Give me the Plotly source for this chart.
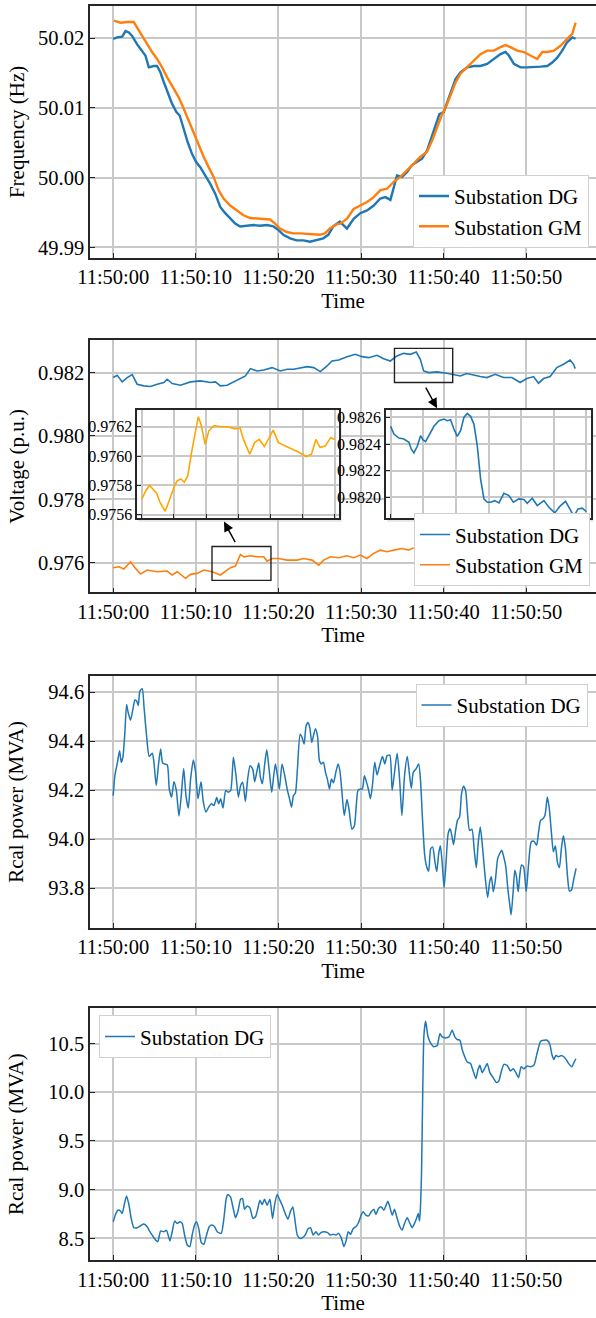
import plotly.graph_objects as go
import numpy as np

# ---------------- data ----------------
tick_seconds = [0, 10, 20, 30, 40, 50]
tick_labels = ["11:50:00", "11:50:10", "11:50:20", "11:50:30", "11:50:40", "11:50:50"]

# Panel 1: frequency (Hz)
freq_dg_t = [0.00, 0.48, 1.09, 1.49, 1.89, 2.29, 2.90, 3.50, 3.90, 4.31, 4.91, 5.31, 5.71, 6.12, 6.72, 7.12,
             7.65, 8.05, 8.53, 9.01, 9.54, 10.06, 10.54, 11.15, 11.75, 12.35, 12.96, 13.56, 14.16, 14.77, 15.37,
             16.18, 16.98, 17.79, 18.59, 19.40, 20.00, 20.60, 21.41, 22.21, 23.02, 23.82, 24.63, 25.43, 26.04,
             26.64, 27.44, 28.30, 29.11, 29.92, 30.73, 31.54, 32.34, 32.95, 33.56, 33.96, 34.36, 34.97, 35.58,
             36.18, 36.79, 37.39, 38.00, 38.48, 39.01, 39.49, 40.02, 40.42, 40.83, 41.43, 42.04, 42.85, 43.66,
             44.46, 45.27, 46.08, 46.89, 47.49, 47.90, 48.51, 49.31, 50.12, 50.93, 51.74, 52.55, 53.15, 53.76,
             54.36, 54.95, 55.58, 55.98]
freq_dg = [50.0199, 50.0201, 50.0202, 50.0210, 50.0208, 50.0203, 50.0191, 50.0182, 50.0175, 50.0158, 50.0160,
           50.0160, 50.0151, 50.0137, 50.0120, 50.0106, 50.0094, 50.0089, 50.0070, 50.0051, 50.0034, 50.0022,
           50.0015, 50.0003, 49.9991, 49.9977, 49.9958, 49.9949, 49.9941, 49.9934, 49.9930, 49.9931, 49.9932,
           49.9931, 49.9932, 49.9930, 49.9925, 49.9918, 49.9913, 49.9910, 49.9910, 49.9908, 49.9910, 49.9913,
           49.9918, 49.9930, 49.9937, 49.9927, 49.9941, 49.9949, 49.9953, 49.9960, 49.9970, 49.9972, 49.9968,
           49.9987, 50.0003, 50.0001, 50.0008, 50.0018, 50.0022, 50.0027, 50.0039, 50.0056, 50.0075, 50.0091,
           50.0094, 50.0108, 50.0122, 50.0141, 50.0151, 50.0158, 50.0160, 50.0160, 50.0163, 50.0170, 50.0177,
           50.0180, 50.0175, 50.0163, 50.0158, 50.0158, 50.0158, 50.0159, 50.0160, 50.0165, 50.0172, 50.0182,
           50.0194, 50.0201, 50.0199]
freq_gm_t = [0.08, 0.89, 1.69, 2.49, 2.90, 3.50, 4.10, 4.71, 5.31, 5.92, 6.52, 7.32, 7.93, 8.53, 9.13, 9.74,
             10.34, 10.95, 11.55, 12.15, 12.76, 13.36, 14.16, 14.97, 15.77, 16.58, 17.38, 18.19, 18.99, 19.60,
             20.20, 21.01, 21.81, 22.62, 23.42, 24.23, 25.03, 25.63, 26.24, 27.04, 27.49, 28.30, 29.11, 29.92,
             30.73, 31.54, 32.34, 33.15, 33.96, 34.77, 35.58, 36.38, 37.19, 38.00, 38.61, 39.21, 39.82, 40.34,
             40.83, 41.43, 42.04, 42.85, 43.66, 44.46, 45.27, 46.08, 46.89, 47.49, 48.10, 48.91, 49.72, 50.53,
             51.33, 51.94, 52.55, 53.35, 54.16, 54.95, 55.58, 55.98]
freq_gm = [50.0225, 50.0222, 50.0223, 50.0223, 50.0215, 50.0203, 50.0191, 50.0180, 50.0170, 50.0158, 50.0144,
           50.0127, 50.0115, 50.0099, 50.0082, 50.0063, 50.0046, 50.0030, 50.0015, 50.0001, 49.9982, 49.9970,
           49.9960, 49.9953, 49.9946, 49.9942, 49.9941, 49.9941, 49.9940, 49.9934, 49.9927, 49.9922, 49.9920,
           49.9920, 49.9919, 49.9918, 49.9918, 49.9920, 49.9927, 49.9933, 49.9934, 49.9941, 49.9955, 49.9960,
           49.9965, 49.9972, 49.9982, 49.9984, 49.9994, 50.0001, 50.0010, 50.0020, 50.0030, 50.0037, 50.0053,
           50.0072, 50.0091, 50.0103, 50.0118, 50.0136, 50.0149, 50.0158, 50.0168, 50.0177, 50.0182, 50.0182,
           50.0187, 50.0190, 50.0187, 50.0182, 50.0180, 50.0175, 50.0170, 50.0180, 50.0180, 50.0182, 50.0189,
           50.0199, 50.0206, 50.0222]

# Panel 2: voltage (p.u.)
volt_dg_t = [0.00, 0.48, 1.09, 1.69, 2.30, 2.90, 3.71, 4.52, 5.32, 6.13, 6.53, 7.14, 8.15, 9.35, 10.56, 11.77,
             12.38, 12.98, 13.79, 14.60, 15.40, 16.01, 16.61, 17.42, 18.23, 19.23, 20.24, 21.05, 21.85, 22.66,
             23.47, 24.27, 25.08, 25.89, 26.49, 27.30, 28.31, 29.31, 30.12, 30.93, 31.94, 32.74, 33.55, 34.35,
             35.16, 35.97, 36.69, 37.18, 37.58, 38.19, 39.19, 40.40, 41.21, 42.02, 42.82, 43.63, 44.44, 45.24,
             46.25, 47.26, 48.27, 49.27, 50.08, 50.89, 51.49, 52.10, 52.90, 53.71, 54.52, 55.32, 55.73, 55.93]
volt_dg = [0.981843, 0.981916, 0.981707, 0.981843, 0.981937, 0.981634, 0.981581, 0.981560, 0.981634, 0.981686,
           0.981790, 0.981654, 0.981602, 0.981707, 0.981738, 0.981686, 0.981707, 0.981581, 0.981602, 0.981707,
           0.981790, 0.981895, 0.982126, 0.982052, 0.982084, 0.982157, 0.982052, 0.982105, 0.982105, 0.982157,
           0.982188, 0.982157, 0.982031, 0.982209, 0.982366, 0.982398, 0.982503, 0.982576, 0.982503, 0.982471,
           0.982545, 0.982440, 0.982366, 0.982524, 0.982607, 0.982576, 0.982649, 0.982419, 0.982052, 0.982000,
           0.982021, 0.981979, 0.981948, 0.981895, 0.981969, 0.981916, 0.981874, 0.981843, 0.981948, 0.981843,
           0.981843, 0.981686, 0.981812, 0.981874, 0.981665, 0.981812, 0.981874, 0.982157, 0.982262, 0.982398,
           0.982262, 0.982126]
volt_gm_t = [0.00, 0.69, 1.29, 2.10, 2.70, 3.31, 4.11, 5.32, 6.53, 7.14, 7.74, 8.75, 9.35, 10.16, 10.97, 11.98,
             12.98, 13.59, 14.19, 14.80, 15.40, 15.81, 16.61, 17.42, 18.23, 18.63, 19.23, 20.04, 21.05, 22.26,
             23.06, 24.07, 24.88, 25.48, 26.29, 27.30, 28.31, 29.11, 29.92, 30.73, 31.53, 32.34, 33.15, 33.95,
             34.96, 35.77, 36.37]
volt_gm = [0.975843, 0.975874, 0.975800, 0.976031, 0.975822, 0.975644, 0.975770, 0.975717, 0.975738, 0.975613,
           0.975717, 0.975508, 0.975634, 0.975665, 0.975770, 0.975717, 0.975613, 0.975717, 0.975843, 0.975895,
           0.976262, 0.976188, 0.976220, 0.976188, 0.976188, 0.976052, 0.976136, 0.976136, 0.976084, 0.976084,
           0.976136, 0.976084, 0.975926, 0.976084, 0.976188, 0.976157, 0.976220, 0.976157, 0.976241, 0.976136,
           0.976293, 0.976398, 0.976346, 0.976398, 0.976450, 0.976398, 0.976471]

# Inset (GM detail)
inset_gm_t = [11.50, 11.78, 12.02, 12.25, 12.49, 12.72, 12.95, 13.07, 13.31, 13.54, 13.71, 13.89, 14.13, 14.36,
              14.60, 14.83, 15.07, 15.30, 15.49, 15.77, 16.01, 16.36, 16.83, 17.30, 17.77, 18.12, 18.35, 18.77,
              19.10, 19.41, 19.76, 20.35, 20.70, 21.17, 21.64, 22.11, 22.58, 22.93, 23.23, 23.51, 23.87, 24.22,
              24.50]
inset_gm = [0.975708, 0.975765, 0.975799, 0.975776, 0.975749, 0.975686, 0.975641, 0.975623, 0.975686, 0.975754,
            0.975799, 0.975832, 0.975844, 0.975821, 0.975866, 0.976013, 0.976137, 0.976268, 0.976216, 0.976080,
            0.976171, 0.976209, 0.976200, 0.976200, 0.976186, 0.976193, 0.976114, 0.976013, 0.976092, 0.976114,
            0.976065, 0.976177, 0.976092, 0.976070, 0.976051, 0.976024, 0.975997, 0.976013, 0.976114, 0.976058,
            0.976070, 0.976126, 0.976114]
inset_gm_ticks = [0.9756, 0.9758, 0.9760, 0.9762]

# Inset (DG detail)
inset_dg_t = [34.05, 34.17, 34.35, 34.53, 34.71, 34.79, 34.89, 35.01, 35.13, 35.21, 35.31, 35.43, 35.61, 35.79,
              35.97, 36.09, 36.21, 36.33, 36.45, 36.57, 36.69, 36.81, 36.93, 37.05, 37.17, 37.29, 37.41, 37.53,
              37.65, 37.80, 37.95, 38.13, 38.31, 38.47, 38.67, 38.85, 38.97, 39.15, 39.33, 39.57, 39.75, 39.96,
              40.17, 40.35, 40.51, 40.65, 40.80, 40.95, 41.10]
inset_dg = [0.982533, 0.982475, 0.982445, 0.982438, 0.982413, 0.982363, 0.982333, 0.982383, 0.982463, 0.982433,
            0.982418, 0.982463, 0.982533, 0.982575, 0.982588, 0.982575, 0.982583, 0.982513, 0.982458, 0.982500,
            0.982600, 0.982630, 0.982608, 0.982550, 0.982388, 0.982138, 0.981988, 0.981963, 0.981963, 0.981975,
            0.981958, 0.982030, 0.982013, 0.981963, 0.981988, 0.981983, 0.981955, 0.981993, 0.981938, 0.981975,
            0.981925, 0.981883, 0.981938, 0.981970, 0.981913, 0.981858, 0.981913, 0.981918, 0.981893]
inset_dg_ticks = [0.9820, 0.9822, 0.9824, 0.9826]

# Highlight boxes (time s, voltage p.u.)
box_gm = [11.96, 19.10, 0.975444, 0.976512]
box_dg = [34.05, 41.10, 0.981686, 0.982763]

# Panel 3: real power (MVA), first chart
p3_t = [0.00, 0.20, 0.48, 0.77, 0.97, 1.17, 1.41, 1.62, 1.82, 2.10, 2.38, 2.63, 2.83, 3.03, 3.23, 3.52, 3.72,
        4.04, 4.36, 4.73, 4.93, 5.21, 5.49, 5.74, 5.98, 6.22, 6.55, 6.79, 7.07, 7.35, 7.64, 7.96, 8.24, 8.53,
        8.81, 9.09, 9.37, 9.70, 9.98, 10.26, 10.63, 10.91, 11.23, 11.56, 11.88, 12.20, 12.53, 12.77, 13.01,
        13.29, 13.62, 13.90, 14.22, 14.55, 14.87, 15.15, 15.43, 15.68, 16.00, 16.28, 16.57, 16.89, 17.13,
        17.37, 17.62, 17.82, 18.06, 18.34, 18.59, 18.87, 19.19, 19.43, 19.64, 19.88, 20.12, 20.44, 20.77,
        21.09, 21.33, 21.58, 21.82, 22.06, 22.30, 22.63, 22.87, 23.11, 23.35, 23.60, 23.80, 24.04, 24.24,
        24.48, 24.73, 24.97, 25.21, 25.45, 25.70, 25.94, 26.18, 26.42, 26.67, 26.95, 27.23, 27.47,
        27.69, 27.97, 28.30, 28.54, 28.90, 29.19, 29.43, 29.63, 29.92, 30.16, 30.41, 30.65, 30.89, 31.14,
        31.38, 31.66, 31.95, 32.27, 32.60, 32.88, 33.16, 33.49, 33.77, 34.06, 34.38, 34.67, 34.95, 35.27,
        35.60, 35.84, 36.09, 36.33, 36.65, 36.98, 37.22, 37.42, 37.71, 37.95, 38.19, 38.44, 38.68, 38.92,
        39.17, 39.41, 39.61, 39.82, 40.06, 40.30, 40.55, 40.79, 40.99, 41.20, 41.44, 41.68, 41.93, 42.17,
        42.41, 42.66, 42.90, 43.14, 43.43, 43.71, 43.96, 44.20, 44.44, 44.69, 45.01, 45.33, 45.58, 45.78,
        46.02, 46.27, 46.55, 46.80, 47.04, 47.28, 47.53, 47.77, 48.01, 48.17, 48.42, 48.62, 48.82, 49.03,
        49.23, 49.43, 49.68, 50.00, 50.28, 50.61, 50.93, 51.26, 51.50, 51.74, 52.03, 52.27, 52.56, 52.80,
        53.04, 53.29, 53.53, 53.77, 54.02, 54.26, 54.50, 54.75, 54.99, 55.23, 55.48, 55.76, 56.04]
p3_mva = [94.178, 94.259, 94.307, 94.361, 94.314, 94.334, 94.435, 94.550, 94.516, 94.486, 94.530, 94.568, 94.564,
          94.546, 94.604, 94.614, 94.543, 94.422, 94.338, 94.351, 94.314, 94.219, 94.307, 94.368, 94.311, 94.307,
          94.303, 94.205, 94.172, 94.235, 94.199, 94.095, 94.178, 94.289, 94.178, 94.127, 94.246, 94.323, 94.273,
          94.165, 94.235, 94.151, 94.111, 94.131, 94.145, 94.138, 94.170, 94.145, 94.165, 94.127, 94.199, 94.192,
          94.199, 94.334, 94.259, 94.172, 94.219, 94.232, 94.154, 94.246, 94.300, 94.286, 94.235, 94.273, 94.311,
          94.253, 94.226, 94.307, 94.365, 94.286, 94.192, 94.259, 94.307, 94.259, 94.205, 94.307, 94.259, 94.199,
          94.168, 94.131, 94.178, 94.189, 94.286, 94.428, 94.415, 94.388, 94.462, 94.476, 94.455, 94.395, 94.422,
          94.451, 94.422, 94.320, 94.307, 94.314, 94.273, 94.243, 94.205, 94.246, 94.230, 94.273, 94.307, 94.273,
          94.192, 94.097, 94.162, 94.124, 94.041, 94.054, 94.138, 94.199, 94.205, 94.205, 94.259, 94.235, 94.205,
          94.165, 94.219, 94.314, 94.262, 94.303, 94.338, 94.307, 94.341, 94.343, 94.199, 94.273, 94.351, 94.246,
          94.097, 94.259, 94.338, 94.273, 94.208, 94.273, 94.286, 94.307, 94.232, 94.097, 93.935, 93.888, 93.870,
          93.962, 93.968, 93.915, 93.868, 93.942, 93.973, 93.908, 93.803, 93.908, 94.023, 94.043, 94.016, 93.978,
          94.032, 94.077, 94.091, 94.185, 94.216, 94.199, 94.104, 94.036, 94.041, 93.955, 93.884, 93.989, 94.050,
          93.976, 93.854, 93.762, 93.827, 93.847, 93.786, 93.834, 93.922, 93.942, 93.955, 93.928, 93.888, 93.800,
          93.732, 93.692, 93.786, 93.874, 93.847, 93.786, 93.854, 93.895, 93.888, 93.786, 93.895, 93.989, 93.992,
          93.976, 94.030, 94.077, 94.084, 94.097, 94.172, 94.124, 94.032, 93.949, 93.973, 93.908, 93.884, 93.962,
          94.014, 93.962, 93.854, 93.789, 93.793, 93.838, 93.881]

# Panel 4: real power (MVA), second chart
p4_t = [0.00, 0.28, 0.56, 0.89, 1.09, 1.37, 1.61, 1.90, 2.18, 2.50, 2.91, 3.31, 3.71, 4.12, 4.44, 4.76, 5.13,
        5.41, 5.73, 6.13, 6.46, 6.86, 7.14, 7.43, 7.75, 8.07, 8.35, 8.64, 8.96, 9.28, 9.56, 9.85, 10.09, 10.37,
        10.65, 10.98, 11.30, 11.62, 11.95, 12.27, 12.59, 13.08, 13.40, 13.68, 13.88, 14.20, 14.53, 14.81, 15.09,
        15.42, 15.66, 15.90, 16.22, 16.55, 16.91, 17.23, 17.51, 17.76, 18.04, 18.32, 18.64, 18.97, 19.29, 19.53,
        19.85, 20.18, 20.46, 20.82, 21.15, 21.47, 21.75, 22.03, 22.28, 22.60, 22.92, 23.29, 23.57, 23.89, 24.21,
        24.54, 24.86, 25.18, 25.50, 25.91, 26.31, 26.63, 26.96, 27.28, 27.60, 27.93, 28.17, 28.45, 28.73, 29.06,
        29.38, 29.70, 30.02, 30.27, 30.59, 30.91, 31.23, 31.56, 31.80, 32.12, 32.45, 32.77, 33.01, 33.25, 33.49,
        33.78, 34.06, 34.38, 34.71, 34.99, 35.27, 35.59, 35.92, 36.20, 36.48, 36.72, 36.93, 37.09, 37.21, 37.33,
        37.45, 37.61, 37.81, 37.93, 38.10, 38.42, 38.82, 39.23, 39.55, 39.83, 40.23, 40.64, 41.04, 41.36, 41.65,
        41.97, 42.25, 42.53, 42.86, 43.26, 43.58, 43.91, 44.15, 44.39, 44.67, 44.96, 45.28, 45.60, 46.00, 46.41,
        46.69, 46.97, 47.30, 47.70, 48.10, 48.43, 48.75, 49.07, 49.39, 49.72, 50.12, 50.52, 50.93, 51.33, 51.74,
        52.14, 52.54, 52.87, 53.11, 53.35, 53.59, 53.91, 54.24, 54.56, 54.88, 55.21, 55.53, 55.77, 56.01]
p4_mva = [8.670, 8.745, 8.789, 8.779, 8.755, 8.857, 8.935, 8.847, 8.704, 8.609, 8.609, 8.629, 8.646, 8.619, 8.568,
          8.527, 8.483, 8.466, 8.575, 8.568, 8.582, 8.473, 8.568, 8.677, 8.653, 8.670, 8.653, 8.534, 8.432, 8.415,
          8.534, 8.636, 8.670, 8.595, 8.459, 8.439, 8.534, 8.619, 8.636, 8.619, 8.568, 8.551, 8.704, 8.908, 8.949,
          8.925, 8.806, 8.711, 8.772, 8.901, 8.908, 8.799, 8.833, 8.813, 8.704, 8.721, 8.806, 8.891, 8.847, 8.901,
          8.840, 8.901, 8.704, 8.840, 8.949, 8.891, 8.840, 8.755, 8.697, 8.779, 8.823, 8.670, 8.534, 8.500, 8.507,
          8.541, 8.595, 8.609, 8.534, 8.568, 8.534, 8.561, 8.568, 8.561, 8.534, 8.541, 8.534, 8.551, 8.507, 8.415,
          8.466, 8.568, 8.541, 8.602, 8.619, 8.663, 8.738, 8.772, 8.738, 8.731, 8.772, 8.799, 8.745, 8.806, 8.823,
          8.789, 8.833, 8.881, 8.823, 8.738, 8.799, 8.704, 8.619, 8.585, 8.653, 8.711, 8.653, 8.609, 8.653, 8.704,
          8.755, 8.677, 8.840, 9.180, 9.861, 10.575, 10.728, 10.677, 10.575, 10.507, 10.466, 10.480, 10.602,
          10.568, 10.558, 10.568, 10.636, 10.568, 10.541, 10.534, 10.439, 10.371, 10.310, 10.296, 10.218, 10.139,
          10.228, 10.276, 10.201, 10.242, 10.296, 10.201, 10.150, 10.099, 10.116, 10.208, 10.286, 10.276, 10.218,
          10.242, 10.201, 10.150, 10.262, 10.242, 10.269, 10.262, 10.276, 10.405, 10.524, 10.534, 10.534, 10.490,
          10.388, 10.337, 10.378, 10.364, 10.378, 10.364, 10.330, 10.286, 10.262, 10.303, 10.344]

for a, b in [(freq_dg_t, freq_dg), (freq_gm_t, freq_gm), (volt_dg_t, volt_dg), (volt_gm_t, volt_gm),
             (inset_gm_t, inset_gm), (inset_dg_t, inset_dg), (p3_t, p3_mva), (p4_t, p4_mva)]:
    assert len(a) == len(b), (len(a), len(b))

# ---------------- layout helpers ----------------
W, H = 596, 1318
ML = 90
FONT = "Liberation Serif, Times New Roman, serif"
BLUE = "#1f77b4"
ORANGE = "#ff7f0e"
GOLD = "#ffa500"
GRID = "#c8c8c8"
SPINE = "#262626"


def px_x(px):
    return (px - ML) / (W - ML)


def px_y(py):
    return 1 - py / H


def vdom(top, bottom):
    return [px_y(bottom), px_y(top)]


panels = [(5, 258), (341, 594), (678.3, 931), (1011.7, 1265)]
yranges = [[49.9885, 50.0246], [0.975068, 0.983014], [93.639, 94.665], [8.275, 10.864]]
ydticks = [0.01, 0.002, 0.2, 0.5]
yformats = [".2f", ".3f", ".1f", ".1f"]
ytitles = ["Frequency (Hz)", "Voltage (p.u.)", "Rcal power (MVA)", "Rcal power (MVA)"]
ystandoffs = [8, 8, 19, 19]
xrange_main = [-2.81, 58.45]

fig = go.Figure()

line_w_freq = 2.4
fig.add_trace(go.Scatter(x=freq_dg_t, y=freq_dg, mode="lines", name="Substation DG",
                         line=dict(color=BLUE, width=line_w_freq), xaxis="x", yaxis="y", legend="legend"))
fig.add_trace(go.Scatter(x=freq_gm_t, y=freq_gm, mode="lines", name="Substation GM",
                         line=dict(color=ORANGE, width=line_w_freq), xaxis="x", yaxis="y", legend="legend"))
fig.add_trace(go.Scatter(x=volt_dg_t, y=volt_dg, mode="lines", name="Substation DG",
                         line=dict(color=BLUE, width=1.6), xaxis="x2", yaxis="y2", legend="legend2"))
fig.add_trace(go.Scatter(x=volt_gm_t, y=volt_gm, mode="lines", name="Substation GM",
                         line=dict(color=ORANGE, width=1.6), xaxis="x2", yaxis="y2", legend="legend2"))
fig.add_trace(go.Scatter(x=p3_t, y=p3_mva, mode="lines", name="Substation DG",
                         line=dict(color=BLUE, width=1.5, shape="spline", smoothing=0.6),
                         xaxis="x3", yaxis="y3", legend="legend3"))
fig.add_trace(go.Scatter(x=p4_t, y=p4_mva, mode="lines", name="Substation DG",
                         line=dict(color=BLUE, width=1.5, shape="spline", smoothing=0.5),
                         xaxis="x4", yaxis="y4", legend="legend4"))
fig.add_trace(go.Scatter(x=inset_gm_t, y=inset_gm, mode="lines", showlegend=False,
                         line=dict(color=GOLD, width=1.6), xaxis="x5", yaxis="y5"))
fig.add_trace(go.Scatter(x=inset_dg_t, y=inset_dg, mode="lines", showlegend=False,
                         line=dict(color=BLUE, width=1.6), xaxis="x6", yaxis="y6"))

layout = dict(
    width=W, height=H,
    margin=dict(l=ML, r=0, t=0, b=0),
    paper_bgcolor="white", plot_bgcolor="white",
    font=dict(family=FONT, size=20, color="black"),
    showlegend=True,
)

for i, ((top, bot), yr, dt, fmt, yt, so) in enumerate(zip(panels, yranges, ydticks, yformats, ytitles, ystandoffs)):
    n = "" if i == 0 else str(i + 1)
    layout["xaxis" + n] = dict(
        domain=[0, 1], anchor="y" + n, range=xrange_main,
        tickvals=tick_seconds, ticktext=tick_labels,
        showgrid=True, gridcolor=GRID, gridwidth=1.5,
        showline=True, linecolor=SPINE, linewidth=1.5, mirror=True,
        ticks="inside", ticklen=5, tickwidth=1.2, tickcolor=SPINE,
        tickfont=dict(family=FONT, size=20.5, color="black"),
        title=dict(text="Time", font=dict(family=FONT, size=21, color="black"), standoff=6),
        zeroline=False,
    )
    layout["yaxis" + n] = dict(
        domain=vdom(top, bot), anchor="x" + n, range=yr,
        dtick=dt, tick0=0, tickformat=fmt,
        showgrid=True, gridcolor=GRID, gridwidth=1.5,
        showline=True, linecolor=SPINE, linewidth=1.5, mirror=False,
        ticks="inside", ticklen=5, tickwidth=1.2, tickcolor=SPINE,
        tickfont=dict(family=FONT, size=20.5, color="black"),
        title=dict(text=yt, font=dict(family=FONT, size=21, color="black"), standoff=so),
        zeroline=False,
    )

inset_top, inset_bot = 411, 519.3
insets = [
    ("5", [137.3, 339.3], inset_gm_t, [0.9755775, 0.976314], inset_gm_ticks),
    ("6", [386, 591], inset_dg_t, [0.981845, 0.9826547], inset_dg_ticks),
]
shapes = []
for n, (x0, x1), tt, yr, yticks in insets:
    t0, t1 = tt[0], tt[-1]
    pad = (t1 - t0) * 0.0235
    layout["xaxis" + n] = dict(
        domain=[px_x(x0), px_x(x1)], anchor="y" + n, range=[t0 - pad, t1 + pad * 1.0],
        tickvals=list(np.linspace(t0, t1, 7)), showticklabels=False,
        showgrid=True, gridcolor=GRID, gridwidth=1.5,
        showline=True, linecolor=SPINE, linewidth=1.5, mirror=True,
        ticks="inside", ticklen=4, tickwidth=1, tickcolor=SPINE, zeroline=False,
    )
    layout["yaxis" + n] = dict(
        domain=vdom(inset_top, inset_bot), anchor="x" + n, range=yr,
        tickvals=yticks, tickformat=".4f",
        showgrid=True, gridcolor=GRID, gridwidth=1.5,
        showline=True, linecolor=SPINE, linewidth=1.5, mirror=True,
        ticks="inside", ticklen=4, tickwidth=1, tickcolor=SPINE, zeroline=False,
        tickfont=dict(family=FONT, size=16, color="black"),
    )
    # soft shadow + opaque white background for the inset
    shapes.append(dict(type="rect", xref="x%s domain" % n, yref="y%s domain" % n,
                       x0=0.006, x1=1.012, y0=-0.035, y1=0.99, layer="below",
                       line=dict(width=0), fillcolor="rgba(150,160,180,0.28)"))
    shapes.append(dict(type="rect", xref="x%s domain" % n, yref="y%s domain" % n,
                       x0=0, x1=1, y0=0, y1=1, layer="below",
                       line=dict(width=0), fillcolor="white"))

for b in (box_gm, box_dg):
    shapes.append(dict(type="rect", xref="x2", yref="y2", x0=b[0], x1=b[1], y0=b[2], y1=b[3],
                       line=dict(color="#222222", width=1.4), fillcolor="rgba(0,0,0,0)", layer="above"))
layout["shapes"] = shapes

annotations = [
    dict(xref="paper", yref="paper", x=px_x(224), y=px_y(523), ax=12, ay=22, text="",
         showarrow=True, arrowhead=2, arrowsize=1.4, arrowwidth=1.4, arrowcolor="black"),
    dict(xref="paper", yref="paper", x=px_x(437), y=px_y(409), ax=-12, ay=-22, text="",
         showarrow=True, arrowhead=2, arrowsize=1.4, arrowwidth=1.4, arrowcolor="black"),
]
layout["annotations"] = annotations

leg_common = dict(bgcolor="white", bordercolor="#d0d0d0", borderwidth=1,
                  font=dict(family=FONT, size=21, color="black"), tracegroupgap=0)
layout["legend"] = dict(x=px_x(589), y=px_y(248), xanchor="right", yanchor="bottom", **leg_common)
layout["legend2"] = dict(x=px_x(590), y=px_y(588), xanchor="right", yanchor="bottom", **leg_common)
layout["legend3"] = dict(x=px_x(587.5), y=px_y(686), xanchor="right", yanchor="top", **leg_common)
layout["legend4"] = dict(x=px_x(99), y=px_y(1019), xanchor="left", yanchor="top", **leg_common)

fig.update_layout(**layout)
fig.write_html("out.html")
